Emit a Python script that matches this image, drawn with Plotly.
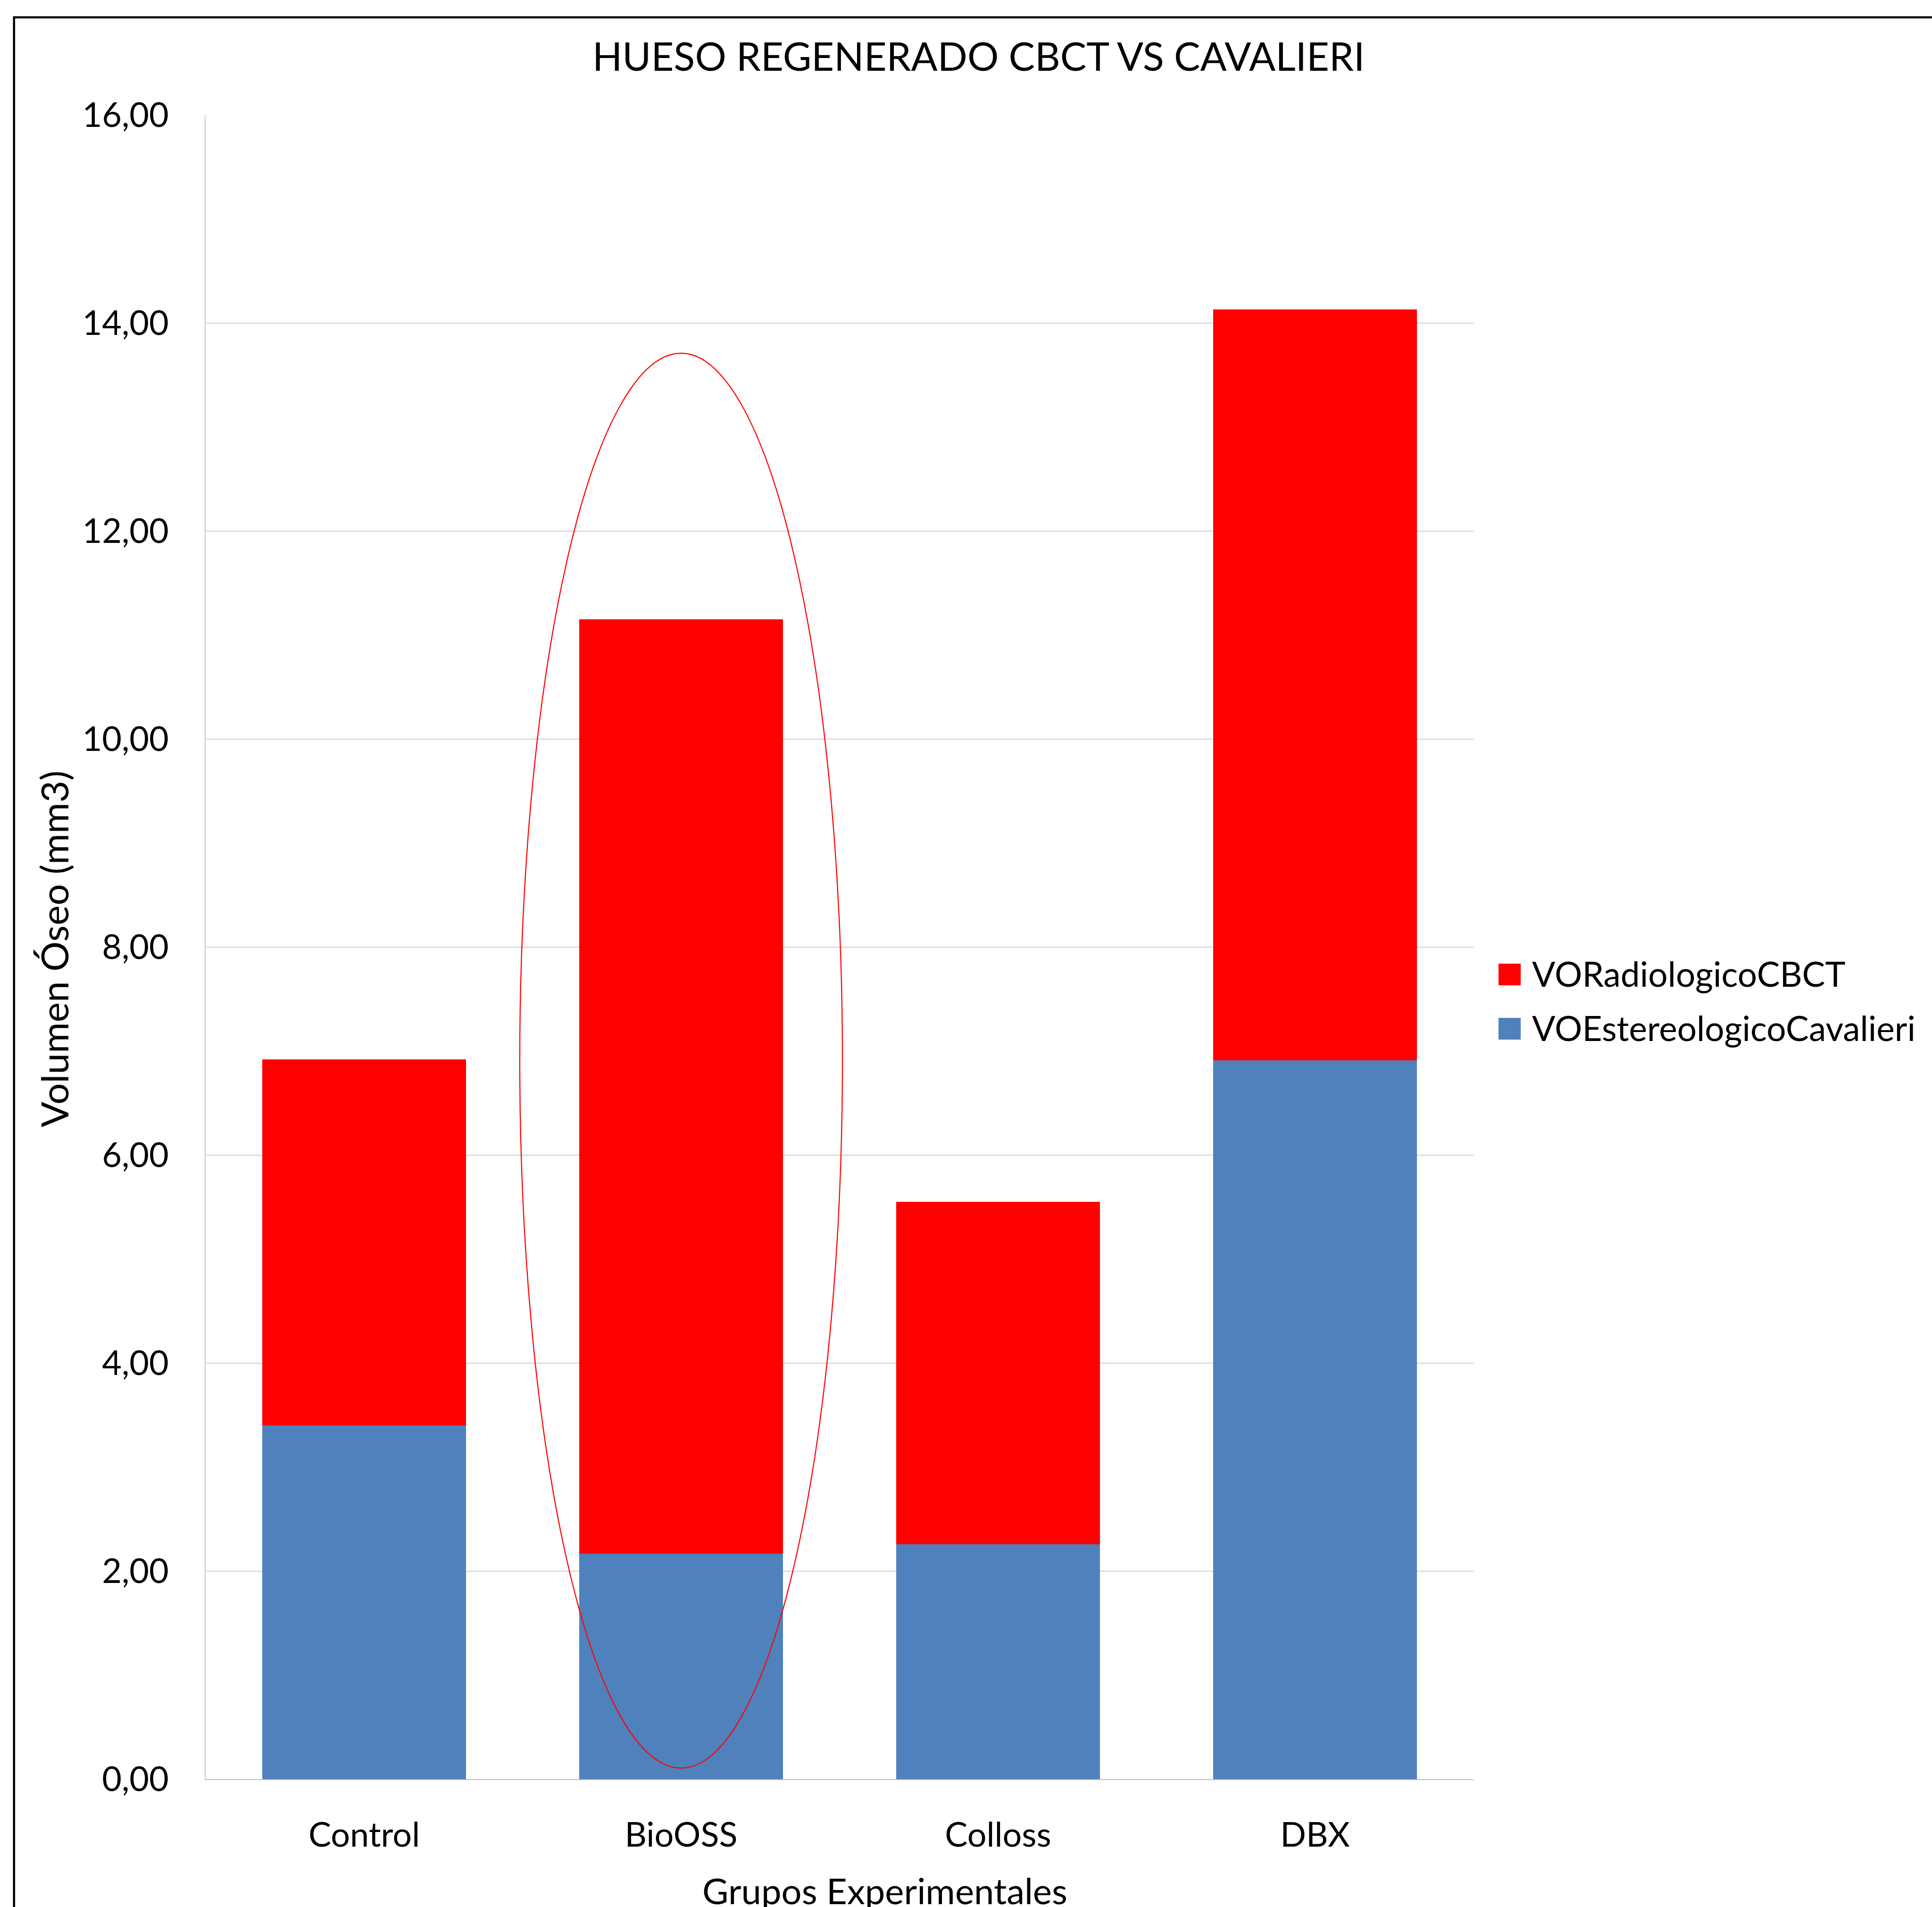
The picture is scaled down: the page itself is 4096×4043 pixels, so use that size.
import plotly.graph_objects as go

# --- data -----------------------------------------------------------------
grupos = ["Control", "BioOSS", "Colloss", "DBX"]
vo_cavalieri = [3.40, 2.17, 2.26, 6.91]   # VOEstereologicoCavalieri
vo_cbct = [3.52, 8.98, 3.29, 7.22]        # VORadiologicoCBCT (stacked on top)
y_ticks = [0, 2, 4, 6, 8, 10, 12, 14, 16]

series_names = ["VORadiologicoCBCT", "VOEstereologicoCavalieri"]
series_colors = ["#FF0000", "#4F81BD"]

titulo = "HUESO REGENERADO CBCT VS CAVALIERI"
titulo_x = "Grupos Experimentales"
titulo_y = "Volumen Óseo (mm3)"

# ellipse drawn round the BioOSS column (category index, value range)
resaltado = dict(centro=1.0, semiancho=0.509, y_bajo=0.107, y_alto=13.71)

# --- page geometry (pixels) ----------------------------------------------
W, H = 4096, 4043
L, R, T, B = 436, 972, 244, 271
FONT = "Lato, Carlito, Calibri, sans-serif"


def px_x(p):
    return (p - L) / (W - L - R)


def px_y(p):
    return (H - B - p) / (H - T - B)


fig = go.Figure()
fig.add_trace(go.Bar(
    x=grupos, y=vo_cavalieri, name=series_names[1],
    marker=dict(color=series_colors[1], line=dict(width=0)),
))
fig.add_trace(go.Bar(
    x=grupos, y=vo_cbct, name=series_names[0],
    marker=dict(color=series_colors[0], line=dict(width=0)),
))

shapes = [
    # outer chart frame (runs past the right and bottom edges)
    dict(type="rect", xref="paper", yref="paper",
         x0=px_x(29.75), x1=px_x(W + 200), y0=px_y(H + 200), y1=px_y(36.75),
         line=dict(color="black", width=4.5), fillcolor="rgba(0,0,0,0)",
         layer="above"),
    # highlight ellipse
    dict(type="circle", xref="x", yref="y",
         x0=resaltado["centro"] - resaltado["semiancho"],
         x1=resaltado["centro"] + resaltado["semiancho"],
         y0=resaltado["y_bajo"], y1=resaltado["y_alto"],
         line=dict(color="#FF0000", width=2.3), layer="above"),
]

# custom legend: large squares + labels
legend_rows = [2066, 2181]
for name, color, cy in zip(series_names, series_colors, legend_rows):
    shapes.append(dict(type="rect", xref="paper", yref="paper",
                       x0=px_x(3177), x1=px_x(3224),
                       y0=px_y(cy + 23), y1=px_y(cy - 23),
                       line=dict(width=0), fillcolor=color))

annotations = [
    dict(text=titulo, x=px_x(2074), y=px_y(118), xref="paper", yref="paper",
         xanchor="center", yanchor="middle", showarrow=False,
         font=dict(family=FONT, size=83, color="black")),
    dict(text=titulo_x, x=px_x(1876), y=px_y(4008),
         xref="paper", yref="paper",
         xanchor="center", yanchor="middle", showarrow=False,
         font=dict(family=FONT, size=76, color="black")),
    dict(text=titulo_y, x=px_x(114), y=px_y(2012),
         xref="paper", yref="paper",
         xanchor="center", yanchor="middle", showarrow=False, textangle=-90,
         font=dict(family=FONT, size=80, color="black")),
]
for name, cy in zip(series_names, [2064, 2179]):
    annotations.append(dict(text=name, x=px_x(3246), y=px_y(cy),
                            xref="paper", yref="paper",
                            xanchor="left", yanchor="middle", showarrow=False,
                            font=dict(family=FONT, size=73, color="black")))

fig.update_layout(
    width=W, height=H,
    margin=dict(l=L, r=R, t=T, b=B, pad=0),
    barmode="stack", bargap=0.358,
    showlegend=False,
    separators=",.",
    paper_bgcolor="white", plot_bgcolor="white",
    font=dict(family=FONT, size=72, color="black"),
    shapes=shapes, annotations=annotations,
    xaxis=dict(
        type="category", range=[-0.5, 3.5],
        showline=True, linecolor="#BFBFBF", linewidth=2.2,
        showgrid=False, ticks="", ticklabelstandoff=54,
        tickfont=dict(family=FONT, size=72, color="black"),
    ),
    yaxis=dict(
        range=[0, 16], tickvals=y_ticks, tickformat=".2f",
        showline=True, linecolor="#C8C8C8", linewidth=1.5,
        showgrid=True, gridcolor="#D0D0D0", gridwidth=1.5,
        zeroline=False, ticks="", ticklabelstandoff=62,
        tickfont=dict(family=FONT, size=72, color="black"),
    ),
)

fig.write_html("out.html")
